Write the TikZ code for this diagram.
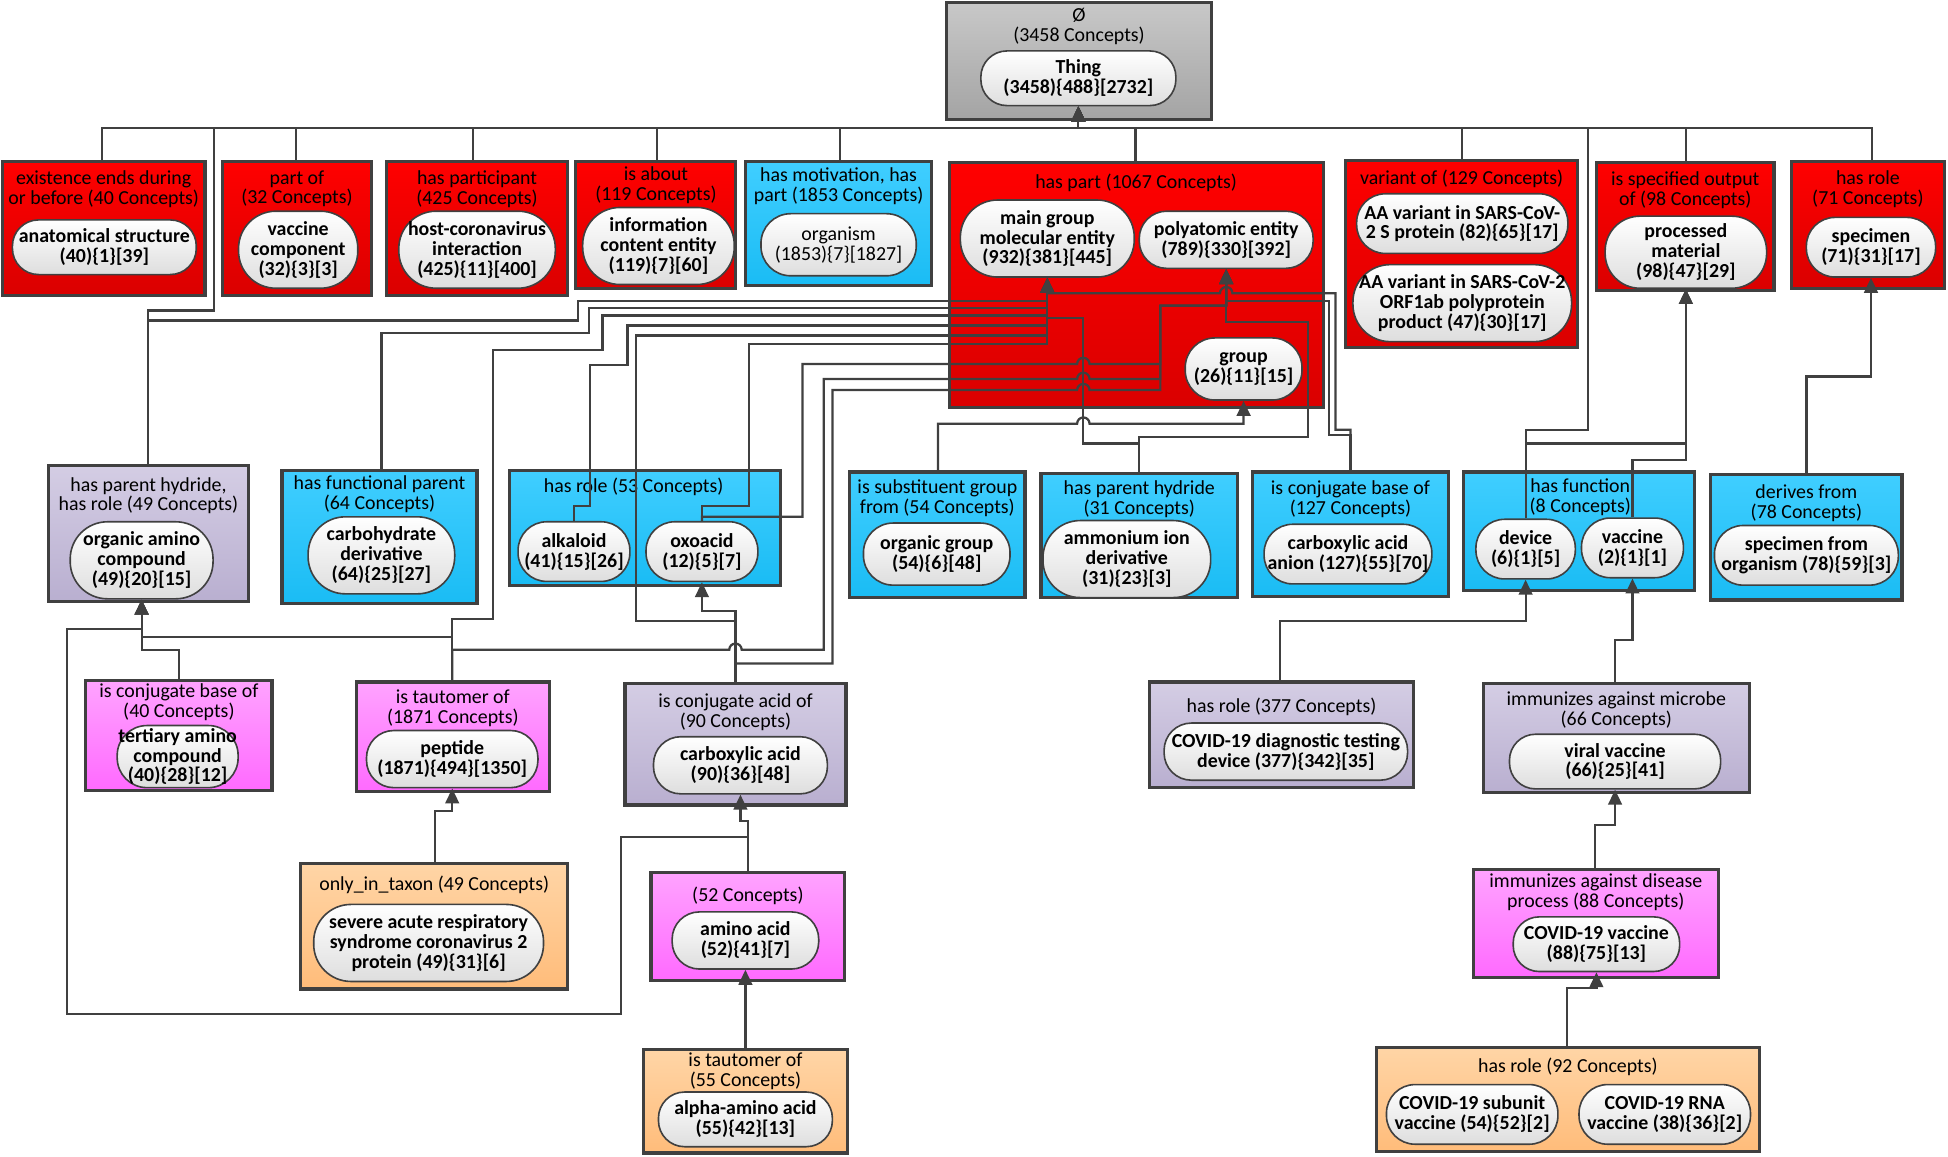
\documentclass[tikz,border=0pt]{standalone}
\usepackage{fontspec}
\setmainfont{Carlito}
\usetikzlibrary{arrows.meta}
\definecolor{lc}{HTML}{404040}
\definecolor{rt}{HTML}{FF0000}\definecolor{rb}{HTML}{DA0000}
\definecolor{bt}{HTML}{40CEFF}\definecolor{bb}{HTML}{1ABCF4}
\definecolor{lt}{HTML}{D4CDE4}\definecolor{lb}{HTML}{B9AFD0}
\definecolor{pt}{HTML}{FFA3FF}\definecolor{pb}{HTML}{FF6AFF}
\definecolor{ot}{HTML}{FFD5A6}\definecolor{ob}{HTML}{FFBC7A}
\definecolor{gt}{HTML}{C8C8C8}\definecolor{gb}{HTML}{A4A4A4}
\newcommand\fs{\fontsize{16}{16}\selectfont}
\newcommand\mybox[6]{\node[bx,#2,minimum width={(#5)-(#3)},minimum height={(#6)-(#4)}] (#1) at ({((#3)+(#5))/2},{((#4)+(#6))/2}) {};}
\newcommand\myoval[6]{\node[ov,minimum width=#4,minimum height=#5,rounded corners={(#5)/2-1}] (#1) at (#2,#3) {#6};}
\newcommand\myttl[4]{\node[ttl] (#1) at (#2,#3) {#4};}
\tikzset{
  bx/.style={draw=lc,line width=2.6pt,inner sep=0pt,rectangle},
  redb/.style={top color=rt,bottom color=rb},
  blueb/.style={top color=bt,bottom color=bb},
  lavb/.style={top color=lt,bottom color=lb},
  pinkb/.style={top color=pt,bottom color=pb},
  orb/.style={top color=ot,bottom color=ob},
  grayb/.style={top color=gt,bottom color=gb},
  ov/.style={draw=lc,line width=1.3pt,top color=white,bottom color=black!13,inner xsep=1pt,inner ysep=0pt,align=center,font=\fs\bfseries},
  ttl/.style={align=center,font=\fs,inner sep=0pt},
  cn/.style={draw=lc,line width=1.8pt,-{Triangle[width=11pt,length=12pt]}}
}
\begin{document}
\begin{tikzpicture}[x=1pt,y=-1pt]
\path[use as bounding box,fill=white] (0,0) rectangle (1568,931);
% boxes
\mybox{bT}{grayb}{762}{2}{975}{96}
\mybox{b1}{redb}{2}{130}{165}{238}
\mybox{b2}{redb}{179}{130}{299}{238}
\mybox{b3}{redb}{311}{130}{457}{238}
\mybox{b4}{redb}{463}{130}{592}{232}
\mybox{b5}{blueb}{600}{130}{750}{230}
\mybox{b6}{redb}{764}{131}{1065}{328}
\mybox{b7}{redb}{1083}{129}{1270}{280}
\mybox{b8}{redb}{1285}{131}{1428}{234}
\mybox{b9}{redb}{1442}{130}{1565}{232}
\mybox{b10}{lavb}{39}{375}{200}{484}
\mybox{b11}{blueb}{227}{379}{384}{486}
\mybox{b12}{blueb}{410}{379}{628}{471}
\mybox{b13}{blueb}{684}{380}{825}{481}
\mybox{b14}{blueb}{838}{381}{996}{481}
\mybox{b15}{blueb}{1008}{380}{1166}{480}
\mybox{b16}{blueb}{1178}{380}{1364}{475}
\mybox{b17}{blueb}{1377}{382}{1531}{483}
\mybox{b18}{pinkb}{69}{548}{219}{636}
\mybox{b19}{pinkb}{287}{549}{442}{637}
\mybox{b20}{lavb}{503}{550}{681}{648}
\mybox{b21}{lavb}{925}{549}{1138}{634}
\mybox{b22}{lavb}{1194}{550}{1408}{638}
\mybox{b23}{orb}{242}{695}{457}{796}
\mybox{b24}{pinkb}{524}{702}{680}{789}
\mybox{b25}{pinkb}{1186}{700}{1383}{787}
\mybox{b26}{orb}{518}{845}{682}{928}
\mybox{b27}{orb}{1108}{843}{1416}{927}
% titles
\myttl{tT}{868.5}{21}{Ø\\(3458 Concepts)}
\myttl{t1}{83.5}{152}{existence ends during\\or before (40 Concepts)}
\myttl{t2}{239}{152}{part of\\(32 Concepts)}
\myttl{t3}{384}{152}{has participant\\(425 Concepts)}
\myttl{t4}{528}{149}{is about\\(119 Concepts)}
\myttl{t5}{675}{150}{has motivation, has\\part (1853 Concepts)}
\myttl{t6}{914.5}{147}{has part (1067 Concepts)}
\myttl{t7}{1176.5}{144}{variant of (129 Concepts)}
\myttl{t8}{1356.5}{153}{is specified output\\of (98 Concepts)}
\myttl{t9}{1503.5}{152}{has role\\(71 Concepts)}
\myttl{t10}{119.5}{399}{has parent hydride,\\has role (49 Concepts)}
\myttl{t11}{305.5}{398}{has functional parent\\(64 Concepts)}
\myttl{t12}{510}{392}{has role (53 Concepts)}
\myttl{t13}{754.5}{401}{is substituent group\\from (54 Concepts)}
\myttl{t14}{917}{402}{has parent hydride\\(31 Concepts)}
\myttl{t15}{1087}{402}{is conjugate base of\\(127 Concepts)}
\myttl{t16}{1272}{400}{has function\\(8 Concepts)}
\myttl{t17}{1454}{405}{derives from\\(78 Concepts)}
\myttl{t18}{144}{565}{is conjugate base of\\(40 Concepts)}
\myttl{t19}{364.5}{570}{is tautomer of\\(1871 Concepts)}
\myttl{t20}{592}{573}{is conjugate acid of\\(90 Concepts)}
\myttl{t21}{1031.5}{569}{has role (377 Concepts)}
\myttl{t22}{1301}{572}{immunizes against microbe\\(66 Concepts)}
\myttl{t23}{349.5}{712}{only\_in\_taxon (49 Concepts)}
\myttl{t24}{602}{721}{(52 Concepts)}
\myttl{t25}{1284.5}{718}{immunizes against disease\\process (88 Concepts)}
\myttl{t26}{600}{862}{is tautomer of\\(55 Concepts)}
\myttl{t27}{1262}{859}{has role (92 Concepts)}
% ovals
\myoval{oT}{868}{63}{157}{44}{Thing\\(3458)\{488\}[2732]}
\myoval{o1}{84}{199}{148}{44}{anatomical structure\\(40)\{1\}[39]}
\myoval{o2}{240}{201}{96}{62}{vaccine\\component\\(32)\{3\}[3]}
\myoval{o3}{384}{201}{126}{62}{host-coronavirus\\interaction\\(425)\{11\}[400]}
\myoval{o4}{530}{198}{122}{62}{information\\content entity\\(119)\{7\}[60]}
\node[ov,font=\fs,minimum width=125,minimum height=50,rounded corners=24] (o5) at (675,197) {organism\\(1853)\{7\}[1827]};
\myoval{o6a}{843}{192}{140}{62}{main group\\molecular entity\\(932)\{381\}[445]}
\myoval{o6b}{987}{193}{140}{46}{polyatomic entity\\(789)\{330\}[392]}
\myoval{o6c}{1001}{297}{94}{50}{group\\(26)\{11\}[15]}
\myoval{o7a}{1177}{180}{170}{48}{AA variant in SARS-CoV-\\2 S protein (82)\{65\}[17]}
\myoval{o7b}{1177}{244}{176}{62}{AA variant in SARS-CoV-2\\ORF1ab polyprotein\\product (47)\{30\}[17]}
\myoval{o8}{1357}{203}{130}{58}{processed\\material\\(98)\{47\}[29]}
\myoval{o9}{1506}{199}{104}{48}{specimen\\(71)\{31\}[17]}
\myoval{o10}{114}{451}{115}{62}{organic amino\\compound\\(49)\{20\}[15]}
\myoval{o11}{307}{447}{118}{62}{carbohydrate\\derivative\\(64)\{25\}[27]}
\myoval{o12a}{462}{444}{90}{48}{alkaloid\\(41)\{15\}[26]}
\myoval{o12b}{565}{444}{90}{48}{oxoacid\\(12)\{5\}[7]}
\myoval{o13}{754}{446}{118}{50}{organic group\\(54)\{6\}[48]}
\myoval{o14}{907}{450}{135}{62}{ammonium ion\\derivative\\(31)\{23\}[3]}
\myoval{o15}{1085}{446}{135}{48}{carboxylic acid\\anion (127)\{55\}[70]}
\myoval{o16a}{1228}{442}{80}{48}{device\\(6)\{1\}[5]}
\myoval{o16b}{1314}{441}{82}{48}{vaccine\\(2)\{1\}[1]}
\myoval{o17}{1454}{447}{148}{48}{specimen from\\organism (78)\{59\}[3]}
\myoval{o18}{143}{609}{78}{50}{tertiary amino\\compound\\(40)\{28\}[12]}
\myoval{o19}{364}{611}{138}{46}{peptide\\(1871)\{494\}[1350]}
\myoval{o20}{596}{616}{140}{46}{carboxylic acid\\(90)\{36\}[48]}
\myoval{o21}{1035}{605}{196}{46}{COVID-19 diagnostic testing\\device (377)\{342\}[35]}
\myoval{o22}{1300}{613}{170}{44}{viral vaccine\\(66)\{25\}[41]}
\myoval{o23}{345}{759}{185}{62}{severe acute respiratory\\syndrome coronavirus 2\\protein (49)\{31\}[6]}
\myoval{o24}{600}{757}{118}{46}{amino acid\\(52)\{41\}[7]}
\myoval{o25}{1285}{760}{134}{44}{COVID-19 vaccine\\(88)\{75\}[13]}
\myoval{o26}{600}{901}{140}{44}{alpha-amino acid\\(55)\{42\}[13]}
\myoval{o27a}{1185}{897}{138}{48}{COVID-19 subunit\\vaccine (54)\{52\}[2]}
\myoval{o27b}{1340}{897}{138}{48}{COVID-19 RNA\\vaccine (38)\{36\}[2]}
% connectors to Thing
\draw[cn] (b1.north -| 82,0) -- (82,103) -| (oT.south);
\draw[cn] (b2.north -| 238,0) -- (238,103) -| (oT.south);
\draw[cn] (b3.north -| 381,0) -- (381,103) -| (oT.south);
\draw[cn] (b4.north -| 529,0) -- (529,103) -| (oT.south);
\draw[cn] (b5.north -| 676,0) -- (676,103) -| (oT.south);
\draw[cn] (b6.north -| 914,0) -- (914,103) -| (oT.south);
\draw[cn] (b7.north -| 1177,0) -- (1177,103) -| (oT.south);
\draw[cn] (b8.north -| 1357,0) -- (1357,103) -| (oT.south);
\draw[cn] (b9.north -| 1507,0) -- (1507,103) -| (oT.south);
\draw[cn] (b10.north -| 119,0) -- (119,250) -- (172,250) -- (172,103) -| (oT.south);
\draw[cn] (o16a.north) -- (1228,346) -- (1278,346) -- (1278,103) -| (oT.south);
% to main group molecular entity
\draw[cn] (b10.north -| 119,0) -- (119,258) -- (465,258) -- (465,242) -| (o6a.south);
\draw[cn] (b11.north -| 307,0) -- (307,268) -- (474,268) -- (474,248) -| (o6a.south);
\draw[cn] (b19.north -| 364,0) -- (364,498) -- (397,498) -- (397,282) -- (485,282) -- (485,254) -| (o6a.south);
\draw[cn] (o12a.north) -- (462,407) -- (475,407) -- (475,294) -- (505,294) -- (505,262) -| (o6a.south);
\draw[cn] (b20.north -| 592,0) -- (592,500) -- (512,500) -- (512,270) -| (o6a.south);
\draw[cn] (o12b.north) -- (565,407) -- (603,407) -- (603,277) -| (o6a.south);
\draw[cn] (b14.north -| 917,0) -- (917,357) -- (872,357) -- (872,256) -| (o6a.south);
\draw[cn] (b15.north -| 1087,0) -- (1087,346) -- (1075,346) -- (1075,236) -- (992,236) arc[start angle=0,end angle=-180,radius=5] -| (o6a.south);
% to polyatomic entity
\draw[cn] (b19.north -| 364,0) -- (364,523) -- (587,523) arc[start angle=180,end angle=360,radius=5] -- (663,523) -- (663,305) -- (867,305) arc[start angle=180,end angle=360,radius=5] -- (934,305) -- (934,246) -| (o6b.south);
\draw[cn] (b20.north -| 592,0) -- (592,534) -- (670,534) -- (670,314) -- (867,314) arc[start angle=180,end angle=360,radius=5] -- (934,314) -- (934,246) -| (o6b.south);
\draw[cn] (o12b.north) -- (565,416) -- (646,416) -- (646,293) -- (867,293) arc[start angle=180,end angle=360,radius=5] -- (934,293) -- (934,246) -| (o6b.south);
\draw[cn] (b14.north -| 917,0) -- (917,352) -- (1053,352) -- (1053,259) -| (o6b.south);
\draw[cn] (b15.north -| 1087,0) -- (1087,350) -- (1070,350) -- (1070,242) -| (o6b.south);
% to group
\draw[cn] (b13.north -| 755,0) -- (755,341) -- (867,341) arc[start angle=180,end angle=360,radius=5] -| (o6c.south);
% to processed material, specimen
\draw[cn] (o16a.north) -- (1228,357) -| (o8.south);
\draw[cn] (o16b.north) -- (1314,370) -| (o8.south);
\draw[cn] (b17.north -| 1454,0) -- (1454,303) -| (o9.south);
% right lower chain
\draw[cn] (b21.north -| 1030,0) -- (1030,500) -| (o16a.south);
\draw[cn] (b22.north -| 1300,0) -- (1300,515) -| (o16b.south);
\draw[cn] (b25.north -| 1284,0) -- (1284,664) -| (o22.south);
\draw[cn] (b27.north -| 1261,0) -- (1261,795) -| (o25.south);
% left lower
\draw[cn] (b18.north -| 144,0) -- (144,523) -| (o10.south);
\draw[cn] (b19.north -| 364,0) -- (364,513) -| (o10.south);
\draw[cn] (b24.north -| 602,0) -- (602,674) -- (500,674) -- (500,816) -- (54,816) -- (54,506) -| (o10.south);
\draw[cn] (b24.north -| 602,0) -- (602,661) -| (o20.south);
\draw[cn] (b20.north -| 592,0) -- (592,492) -| (o12b.south);
\draw[cn] (b23.north -| 350,0) -- (350,653) -| (o19.south);
\draw[cn] (b26.north -| 600,0) -- (o24.south);
\end{tikzpicture}
\end{document}
